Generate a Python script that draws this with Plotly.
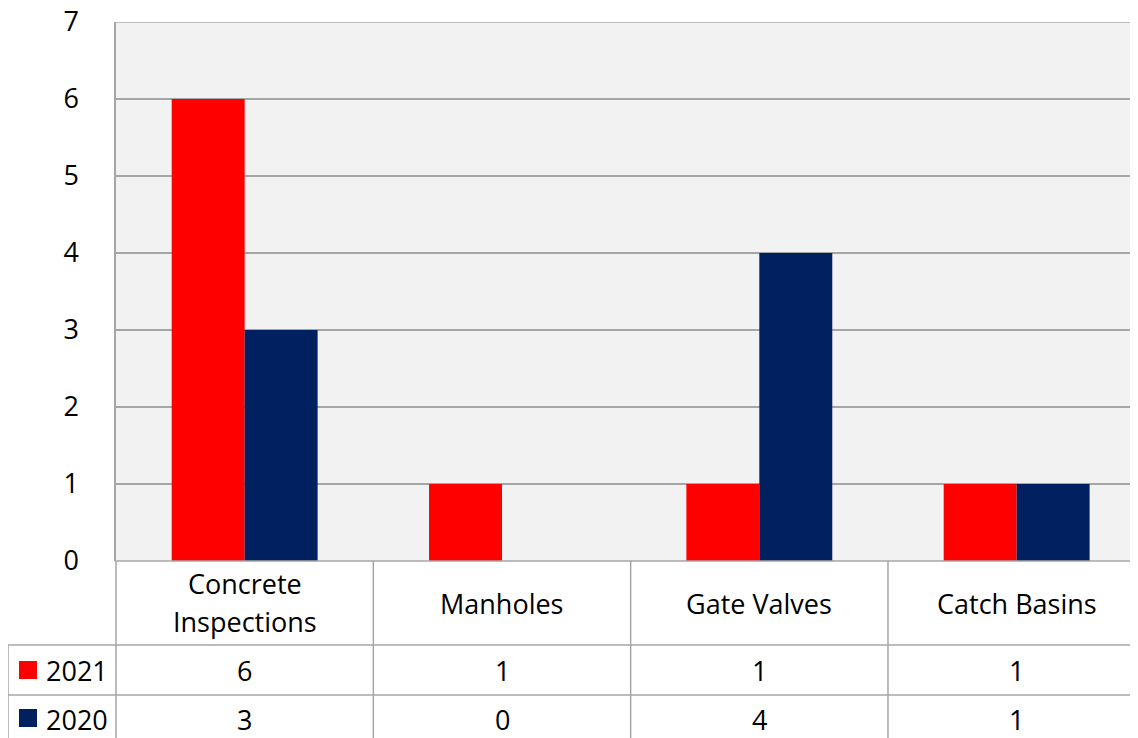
import plotly.graph_objects as go

categories = ["Concrete Inspections", "Manholes", "Gate Valves", "Catch Basins"]
category_lines = [["Concrete", "Inspections"], ["Manholes"], ["Gate Valves"], ["Catch Basins"]]
series_names = ["2021", "2020"]
values_2021 = [6, 1, 1, 1]
values_2020 = [3, 0, 4, 1]
y_ticks = [0, 1, 2, 3, 4, 5, 6, 7]

RED = "#FF0000"
NAVY = "#002060"
GRID = "#A6A6A6"
FONT = "Open Sans"
FS = 27

# page body has an 8px margin; figure is placed at (8, 8)
OFF = 8
FIG_W, FIG_H = 1138 - OFF, 738 - OFF
# plot area in page pixels: left 116 .. right 1138, top 22 .. bottom 561
L, R, T, B = 116, 1138, 22, 561
W = R - L

def px(x):  # page x -> paper x
    return (x - L) / W
def py(y):  # page y -> paper y (margins top/bottom are zero)
    return (738 - y) / FIG_H

fig = go.Figure()
fig.add_trace(go.Bar(x=categories, y=values_2021, name=series_names[0], marker_color=RED,
                     marker_line_width=0))
fig.add_trace(go.Bar(x=categories, y=values_2020, name=series_names[1], marker_color=NAVY,
                     marker_line_width=0))

cat_w = 257.33
x_end = (R - L) / cat_w - 0.5

shapes = []
line = dict(color=GRID, width=1.5)
# top gridline (value 7) at the plot edge
shapes.append(dict(type="line", xref="paper", yref="y", x0=0, x1=1, y0=y_ticks[-1], y1=y_ticks[-1],
                   line=line, layer="below"))
# vertical separators in table
for i in range(len(categories) - 1):
    shapes.append(dict(type="line", xref="x", yref="paper", x0=i + 0.5, x1=i + 0.5,
                       y0=py(B), y1=py(745), line=line))
# left borders of table
shapes.append(dict(type="line", xref="paper", yref="paper", x0=0, x1=0, y0=py(B), y1=py(745), line=line))
shapes.append(dict(type="line", xref="paper", yref="paper", x0=px(8), x1=px(8), y0=py(645), y1=py(745), line=line))
# horizontal row lines
for yy in [645, 695]:
    shapes.append(dict(type="line", xref="paper", yref="paper", x0=px(8), x1=1, y0=py(yy), y1=py(yy), line=line))
shapes.append(dict(type="line", xref="paper", yref="paper", x0=0, x1=1, y0=py(B), y1=py(B), line=line))

annotations = []
# category header labels
for i, lines in enumerate(category_lines):
    ys = [603] if len(lines) == 1 else [583, 621]
    for txt, yy in zip(lines, ys):
        annotations.append(dict(x=i, y=py(yy), xref="x", yref="paper", text=txt, showarrow=False,
                                font=dict(family=FONT, size=FS, color="black"),
                                xanchor="center", yanchor="middle"))
# data rows
row_centers = [670, 719]
square_tops = [661, 709]
colors = [RED, NAVY]
for name, vals, yc, st, col in zip(series_names, [values_2021, values_2020], row_centers, square_tops, colors):
    for i, v in enumerate(vals):
        annotations.append(dict(x=i, y=py(yc), xref="x", yref="paper", text=str(v), showarrow=False,
                                font=dict(family=FONT, size=FS, color="black"),
                                xanchor="center", yanchor="middle"))
    annotations.append(dict(x=px(44), y=py(yc), xref="paper", yref="paper", text=name, showarrow=False,
                            font=dict(family=FONT, size=FS, color="black"),
                            xanchor="left", yanchor="middle"))
    shapes.append(dict(type="rect", xref="paper", yref="paper", x0=px(19), x1=px(37),
                       y0=py(st + 18), y1=py(st), fillcolor=col, line=dict(width=0)))

fig.update_layout(
    width=FIG_W, height=FIG_H,
    margin=dict(l=L - OFF, r=0, t=0, b=0),
    paper_bgcolor="white", plot_bgcolor="#F2F2F2",
    barmode="group", bargap=0.433, bargroupgap=0,
    showlegend=False,
    shapes=shapes, annotations=annotations,
    font=dict(family=FONT, size=FS, color="black"),
)
fig.update_xaxes(range=[-0.5, x_end], domain=[0, 1], showticklabels=False, showgrid=False,
                 zeroline=False, showline=False, ticks="")
fig.update_yaxes(range=[0, 7], domain=[py(B), py(T)], tickvals=y_ticks, showgrid=True,
                 gridcolor=GRID, gridwidth=1.5, zeroline=False, showline=True, linecolor=GRID,
                 linewidth=1.5, ticks="", tickfont=dict(family=FONT, size=FS, color="black"),
                 ticklabelstandoff=30, ticklabeloverflow="allow", automargin=False)

fig.write_html("out.html")
